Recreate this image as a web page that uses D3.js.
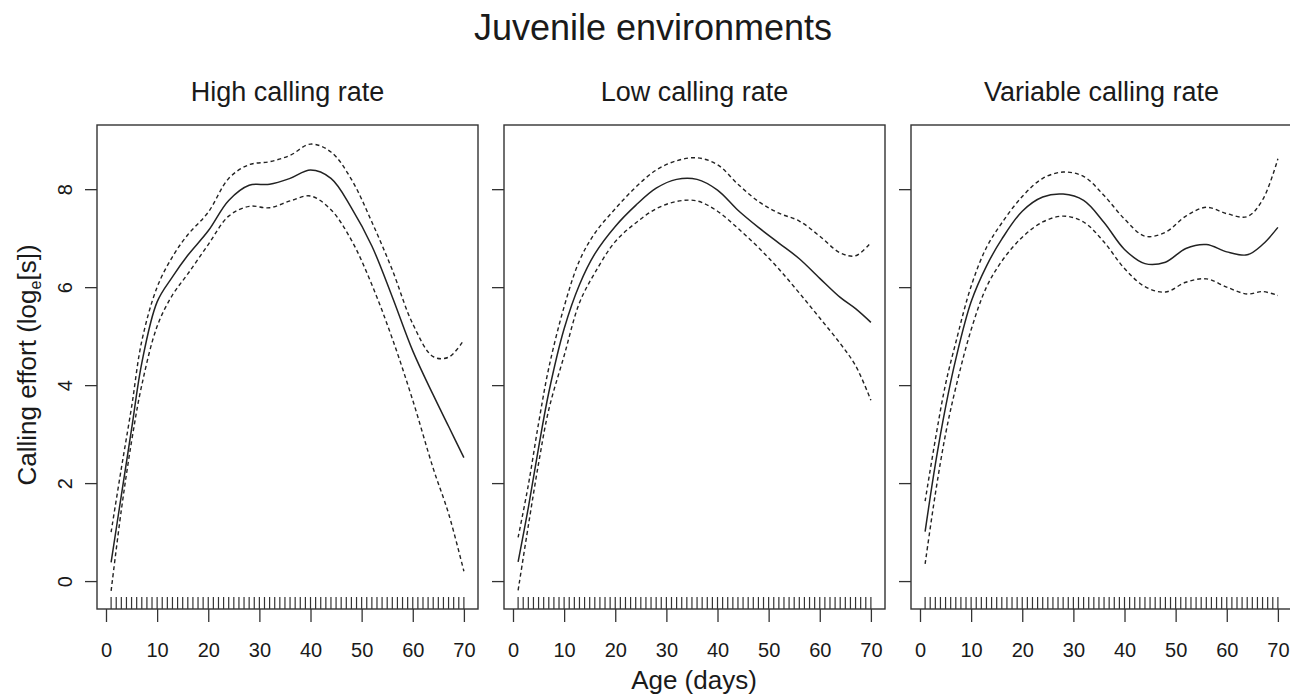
<!DOCTYPE html>
<html>
<head>
<meta charset="utf-8">
<script src="https://cdn.jsdelivr.net/npm/d3@7"></script>
<style>
  body { margin: 0; background: #fff; }
  svg { display: block; font-family: "Liberation Sans", Arial, Helvetica, sans-serif; }
  .box { fill: none; stroke: #333; stroke-width: 1.4; }
  .fit { fill: none; stroke: #222; stroke-width: 1.5; }
  .band { fill: none; stroke: #222; stroke-width: 1.4; stroke-dasharray: 4 3; }
  .rug { stroke: #333; stroke-width: 1.2; }
  .axis line { stroke: #333; stroke-width: 1.3; }
  .axis text { font-size: 20px; fill: #1a1a1a; font-family: "Liberation Sans", Arial, sans-serif; }
</style>
</head>
<body>
<script>
// Data {{{1
const panelTitles = ["High calling rate", "Low calling rate", "Variable calling rate"];
const ages = [1, 3, 5, 7, 10, 13, 16, 20, 24, 28, 32, 36, 40, 44, 48, 52, 56, 60, 64, 67, 70];

const highFit   = [0.38, 1.75, 3.10, 4.45, 5.70, 6.21, 6.65, 7.15, 7.77, 8.08, 8.10, 8.22, 8.39, 8.22, 7.62, 6.84, 5.80, 4.70, 3.80, 3.16, 2.52];
const highUpper = [1.00, 2.30, 3.55, 4.90, 6.00, 6.62, 7.07, 7.53, 8.22, 8.50, 8.56, 8.69, 8.92, 8.76, 8.20, 7.33, 6.35, 5.25, 4.58, 4.57, 4.92];
const highLower = [-0.20, 1.45, 2.85, 4.00, 5.20, 5.84, 6.27, 6.87, 7.45, 7.65, 7.62, 7.76, 7.86, 7.58, 6.96, 6.05, 4.95, 3.69, 2.30, 1.38, 0.20];

const lowFit   = [0.39, 1.50, 2.72, 3.85, 5.15, 6.05, 6.68, 7.24, 7.67, 8.02, 8.20, 8.20, 7.98, 7.57, 7.22, 6.90, 6.58, 6.18, 5.79, 5.56, 5.28];
const lowUpper = [0.89, 1.96, 3.22, 4.35, 5.60, 6.54, 7.10, 7.60, 8.04, 8.39, 8.58, 8.64, 8.50, 8.10, 7.75, 7.51, 7.35, 7.04, 6.70, 6.64, 6.91];
const lowLower = [-0.19, 1.13, 2.40, 3.50, 4.60, 5.68, 6.29, 6.93, 7.31, 7.60, 7.75, 7.76, 7.55, 7.20, 6.81, 6.37, 5.88, 5.37, 4.85, 4.40, 3.69];

const varFit   = [1.01, 2.38, 3.55, 4.53, 5.70, 6.43, 6.98, 7.55, 7.84, 7.90, 7.77, 7.32, 6.77, 6.48, 6.51, 6.79, 6.87, 6.72, 6.66, 6.87, 7.22];
const varUpper = [1.63, 2.89, 4.02, 4.87, 6.02, 6.81, 7.31, 7.85, 8.22, 8.35, 8.26, 7.87, 7.39, 7.04, 7.12, 7.45, 7.63, 7.50, 7.44, 7.78, 8.62];
const varLower = [0.35, 1.78, 3.00, 3.95, 5.13, 6.00, 6.53, 7.02, 7.33, 7.45, 7.33, 6.92, 6.38, 6.01, 5.90, 6.10, 6.17, 6.00, 5.86, 5.91, 5.83];

// ages of the observations, drawn as a rug along the bottom
const rugAges = [1, 2, 3, 4, 5, 6, 7, 8, 9, 10, 11, 12, 13, 14, 15, 16, 17, 18, 19, 20,
    21, 22, 23, 24, 25, 26, 27, 28, 29, 30, 31, 32, 33, 34, 35, 36, 37, 38, 39, 40,
    41, 42, 43, 44, 45, 46, 47, 48, 49, 50, 51, 52, 53, 54, 55, 56, 57, 58, 59, 60,
    61, 62, 63, 64, 65, 66, 67, 68, 69, 70];

const xTicks = [0, 10, 20, 30, 40, 50, 60, 70];
const yTicks = [0, 2, 4, 6, 8];

// Main {{{1
const width = 1290, height = 696;
const panelLeft = [97, 504, 911];
const panelWidth = 381;
const plotTop = 125, plotBottom = 609;

function main() {
    const svg = d3.select("body").append("svg")
        .attr("width", width)
        .attr("height", height);

    const series = [
        { fit: highFit, upper: highUpper, lower: highLower },
        { fit: lowFit, upper: lowUpper, lower: lowLower },
        { fit: varFit, upper: varUpper, lower: varLower }
    ];

    // R pads the data range by 4% on each side
    const y = d3.scaleLinear().domain([-0.57, 9.31]).range([plotBottom, plotTop]);

    series.forEach((s, i) => {
        const x = d3.scaleLinear()
            .domain([-1.76, 72.76])
            .range([panelLeft[i], panelLeft[i] + panelWidth]);
        drawPanel(svg, x, y, s, i);
    });

    svg.append("text")
        .attr("x", 653)
        .attr("y", 40)
        .attr("text-anchor", "middle")
        .style("font-size", "36px")
        .style("fill", "#1a1a1a")
        .text("Juvenile environments");

    svg.append("text")
        .attr("x", 694)
        .attr("y", 689)
        .attr("text-anchor", "middle")
        .style("font-size", "26px")
        .style("fill", "#1a1a1a")
        .text("Age (days)");

    const ylab = svg.append("text")
        .attr("transform", "translate(36,365) rotate(-90)")
        .attr("text-anchor", "middle")
        .style("font-size", "26px")
        .style("fill", "#1a1a1a");
    ylab.append("tspan").text("Calling effort (log");
    ylab.append("tspan").attr("dy", 5).style("font-size", "16px").text("e");
    ylab.append("tspan").attr("dy", -5).text("[s])");
}

// Panels {{{1
function drawPanel(svg, x, y, s, i) {
    const g = svg.append("g");

    g.append("text")
        .attr("x", panelLeft[i] + panelWidth / 2)
        .attr("y", 101)
        .attr("text-anchor", "middle")
        .style("font-size", "27px")
        .style("fill", "#1a1a1a")
        .text(panelTitles[i]);

    // rug of observed ages
    g.selectAll(".rug")
        .data(rugAges)
        .join("line")
        .classed("rug", true)
        .attr("x1", (d) => x(d))
        .attr("x2", (d) => x(d))
        .attr("y1", plotBottom - 12)
        .attr("y2", plotBottom);

    const line = (vals) => d3.line()
        .x((d, k) => x(ages[k]))
        .y((d) => y(d))
        .curve(d3.curveCatmullRom.alpha(0.5))(vals);

    g.append("path").classed("band", true).attr("d", line(s.upper));
    g.append("path").classed("band", true).attr("d", line(s.lower));
    g.append("path").classed("fit", true).attr("d", line(s.fit));

    const xAxis = g.append("g")
        .classed("axis", true)
        .attr("transform", "translate(0," + plotBottom + ")")
        .call(d3.axisBottom(x).tickValues(xTicks).tickSize(13).tickPadding(21));
    xAxis.select(".domain").remove();

    const yAxis = g.append("g")
        .classed("axis", true)
        .attr("transform", "translate(" + panelLeft[i] + ",0)")
        .call(d3.axisLeft(y).tickValues(yTicks).tickSize(12)
            .tickFormat(i == 0 ? d3.format("d") : () => ""));
    yAxis.select(".domain").remove();
    // R draws y labels parallel to the axis
    yAxis.selectAll(".tick text")
        .attr("transform", "rotate(-90)")
        .attr("x", 0)
        .attr("y", -25)
        .attr("dy", 0)
        .attr("text-anchor", "middle");

    g.append("rect")
        .classed("box", true)
        .attr("x", panelLeft[i])
        .attr("y", plotTop)
        .attr("width", panelWidth)
        .attr("height", plotBottom - plotTop);
}

main();
</script>
</body>
</html>
